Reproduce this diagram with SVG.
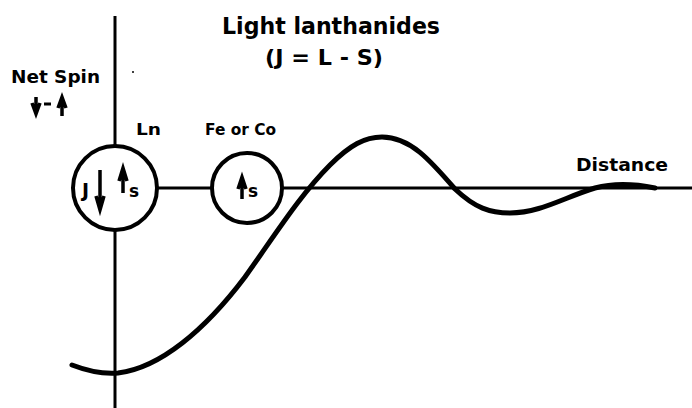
<svg xmlns="http://www.w3.org/2000/svg" width="692" height="408" viewBox="0 0 692 408">
<style>
.t{font-family:"DejaVu Sans","Liberation Sans",sans-serif;font-weight:bold;fill:#000}
.ax{stroke:#000;stroke-width:3;fill:none}
.c{stroke:#000;stroke-width:4;fill:#fff}
.ar{stroke:#000;stroke-width:3.5;fill:none}
</style>
<rect width="692" height="408" fill="#fff"/>
<g id="connectors">
<line class="ax" x1="115" y1="16" x2="115" y2="146"/>
<line class="ax" x1="115" y1="231" x2="115" y2="408"/>
<line class="ax" x1="158" y1="188" x2="212" y2="188"/>
<line class="ax" x1="282" y1="188" x2="692" y2="188"/>
<path d="M72,365 C90,372 105,374 118,373 C160,368 205,330 245,277 C275,235 300,195 330,165 C350,145 365,137 382,137 C410,137 430,160 455,189 C475,208 490,213 510,213 C540,213 565,197 595,188 C610,184 630,183 655,188" stroke="#000" stroke-width="5" fill="none" stroke-linecap="round"/>
<circle cx="133" cy="72" r="1" fill="#000"/>
</g>
<g id="title">
<text class="t" x="222" y="34" font-size="23" textLength="218" lengthAdjust="spacingAndGlyphs">Light lanthanides</text>
<text class="t" x="265" y="65" font-size="22" textLength="118" lengthAdjust="spacingAndGlyphs">(J = L - S)</text>
</g>
<g id="netspin">
<text class="t" x="11" y="83" font-size="18" textLength="89" lengthAdjust="spacingAndGlyphs">Net Spin</text>
<path d="M36,97 L36,110 M32,103 L36,114 L40,103" class="ar"/>
<line x1="44" y1="104" x2="51" y2="104" stroke="#000" stroke-width="3"/>
<path d="M62,116 L62,101 M58,108 L62,97 L66,108" class="ar"/>
</g>
<g id="ln">
<circle class="c" cx="115" cy="188" r="42"/>
<text class="t" x="136" y="135" font-size="16" textLength="25" lengthAdjust="spacingAndGlyphs">Ln</text>
<text class="t" x="82" y="197" font-size="19">J</text>
<path d="M100,170 L100,208 M96,196 L100,210 L104,196" class="ar"/>
<path d="M123,193 L123,172 M119,181 L123,168 L127,181" class="ar"/>
<text class="t" x="129" y="197" font-size="17">s</text>
</g>
<g id="feco">
<circle class="c" cx="247" cy="188" r="35"/>
<text class="t" x="205" y="135" font-size="16" textLength="71" lengthAdjust="spacingAndGlyphs">Fe or Co</text>
<path d="M242,199 L242,181 M238,189 L242,177 L246,189" class="ar"/>
<text class="t" x="248" y="197" font-size="17">s</text>
</g>
<g id="distance">
<text class="t" x="576" y="171" font-size="18" textLength="92" lengthAdjust="spacingAndGlyphs">Distance</text>
</g>
</svg>
